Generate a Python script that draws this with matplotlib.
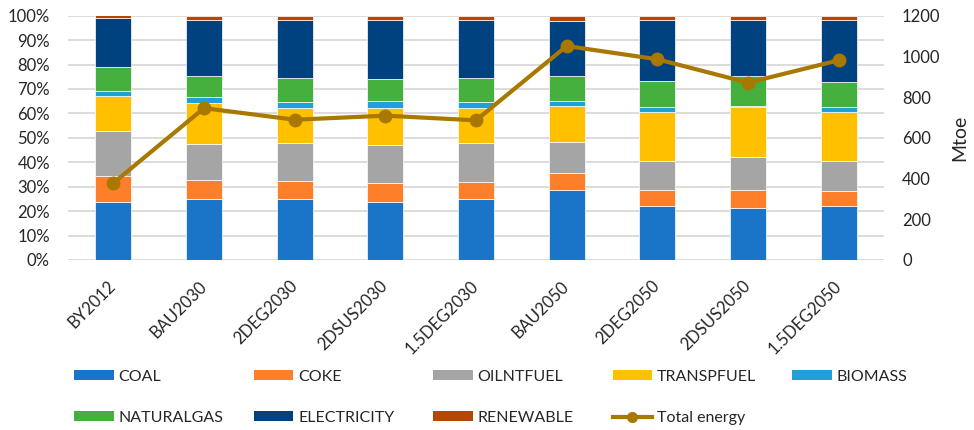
import matplotlib
matplotlib.use("Agg")
import matplotlib.pyplot as plt
from matplotlib.patches import Patch
from matplotlib.lines import Line2D
import numpy as np

plt.rcParams['font.family'] = ['Lato', 'DejaVu Sans']

scenarios = ["BY2012", "BAU2030", "2DEG2030", "2DSUS2030", "1.5DEG2030",
             "BAU2050", "2DEG2050", "2DSUS2050", "1.5DEG2050"]

# Fuel shares of final energy (%)
coal        = [23.7, 25.1, 25.1, 23.9, 25.1, 28.8, 22.2, 21.4, 22.2]
coke        = [10.5,  7.5,  7.2,  7.8,  7.0,  6.8,  6.6,  7.4,  6.2]
oilntfuel   = [18.6, 15.0, 15.7, 15.5, 15.8, 12.6, 11.7, 13.2, 12.1]
transpfuel  = [14.2, 16.7, 14.3, 15.1, 14.3, 14.7, 19.9, 20.8, 19.9]
biomass     = [ 2.2,  2.4,  2.4,  2.8,  2.3,  2.0,  2.4,  0.3,  2.4]
naturalgas  = [ 9.8,  8.7,  9.8,  9.0, 10.0, 10.4, 10.5, 12.3, 10.2]
electricity = [20.2, 22.7, 23.9, 24.0, 23.9, 22.7, 24.9, 22.7, 25.2]
renewable   = [ 1.0,  1.9,  1.6,  1.9,  1.6,  2.0,  1.8,  1.9,  1.8]

# Total final energy (Mtoe)
total_energy = [378, 746, 689, 709, 686, 1051, 986, 871, 981]

series = [
    ("COAL", coal, "#1a75c9"),
    ("COKE", coke, "#fd7f2a"),
    ("OILNTFUEL", oilntfuel, "#a5a5a5"),
    ("TRANSPFUEL", transpfuel, "#ffc000"),
    ("BIOMASS", biomass, "#219fd9"),
    ("NATURALGAS", naturalgas, "#46b03e"),
    ("ELECTRICITY", electricity, "#004280"),
    ("RENEWABLE", renewable, "#b54705"),
]
line_color = "#a87800"
text_color = "#262626"

W, H = 974, 430
fig = plt.figure(figsize=(W / 100, H / 100), dpi=100)
ax = fig.add_axes([68 / W, 1 - 260 / H, (884 - 68) / W, (260 - 15.7) / H])

x = np.arange(len(scenarios))
bottom = np.zeros(len(scenarios))
handles = []
for name, vals, col in series:
    v = np.array(vals)
    ax.bar(x, v, bottom=bottom, width=0.4, color=col, edgecolor="white",
           linewidth=0.5, zorder=2)
    bottom += v
    handles.append(Patch(facecolor=col, label=name))

ax.set_ylim(0, 100)
ax.set_xlim(-0.5, len(scenarios) - 0.5)
ax.set_yticks(np.arange(0, 101, 10))
ax.set_yticklabels([f"{t}%" for t in range(0, 101, 10)], fontsize=12, color=text_color)
ax.yaxis.grid(True, color="#d9d9d9", linewidth=1.3, zorder=0)
ax.set_axisbelow(True)
ax.tick_params(axis="both", length=0)
ax.tick_params(axis="y", pad=13)
ax.set_xticks(x)
ax.set_xticklabels(scenarios, rotation=45, ha="right", va="center",
                   rotation_mode="anchor", fontsize=12, color=text_color)
ax.tick_params(axis="x", pad=17)
for s in ax.spines.values():
    s.set_visible(False)

ax2 = ax.twinx()
ax2.plot(x, total_energy, color=line_color, linewidth=3, marker="o",
         markersize=9, zorder=5)
ax2.set_ylim(0, 1200)
ax2.set_yticks(np.arange(0, 1201, 200))
ax2.set_yticklabels([str(t) for t in range(0, 1201, 200)], fontsize=12, color=text_color)
ax2.tick_params(axis="y", length=0, pad=13)
ax2.set_ylabel("Mtoe", fontsize=14, color=text_color, labelpad=8)
for s in ax2.spines.values():
    s.set_visible(False)

handles.append(Line2D([0], [0], color=line_color, linewidth=3, marker="o",
                      markersize=7, label="Total energy"))

# Legend laid out on an even grid: 5 columns, 2 rows
col_x = [74 + i * 179.5 for i in range(5)]
row_y = [377, 418]
for i, h in enumerate(handles):
    r, c = divmod(i, 5)
    leg = fig.legend(handles=[h], loc="center left",
                     bbox_to_anchor=(col_x[c] / W, 1 - row_y[r] / H),
                     frameon=False, fontsize=11.5, handlelength=2.5,
                     handleheight=0.6, handletextpad=0.3,
                     borderpad=0, borderaxespad=0)
    for t in leg.get_texts():
        t.set_color(text_color)

fig.savefig("out.png", dpi=100)
